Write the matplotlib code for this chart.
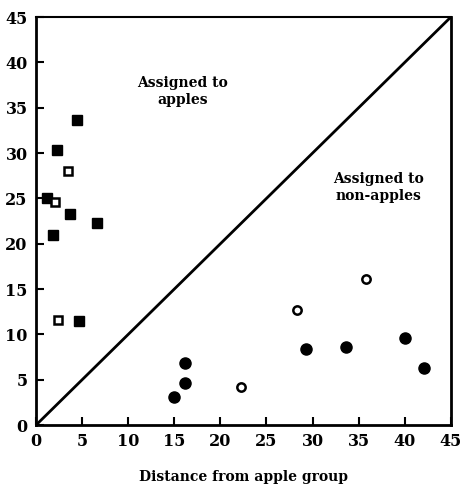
import matplotlib
matplotlib.use('Agg')
import matplotlib.pyplot as plt

# apples, correctly assigned (filled squares) and holdout (open squares)
apple_x = [4.4, 2.3, 1.2, 3.7, 6.6, 1.8, 4.7]
apple_y = [33.7, 30.3, 25.0, 23.3, 22.3, 21.0, 11.5]
apple_open_x = [3.5, 2.1, 2.4]
apple_open_y = [28.0, 24.6, 11.6]

# non-apples (filled circles) and holdout (open circles)
non_x = [16.2, 16.2, 15.0, 29.3, 33.6, 40.0, 42.1]
non_y = [6.9, 4.7, 3.1, 8.4, 8.6, 9.6, 6.3]
non_open_x = [22.2, 28.3, 35.8]
non_open_y = [4.2, 12.7, 16.1]

ticks = [0, 5, 10, 15, 20, 25, 30, 35, 40, 45]

plt.rcParams['font.family'] = 'DejaVu Serif'

fig = plt.figure(figsize=(4.61, 4.87), dpi=100)
ax = fig.add_axes([0.078, 0.127, 0.9, 0.838])

ax.plot([0, 45], [0, 45], color='black', lw=2)

ax.plot(apple_x, apple_y, 's', color='black', ms=7.5, ls='none')
ax.plot(apple_open_x, apple_open_y, 's', mfc='white', mec='black', mew=1.8, ms=5.5, ls='none')
ax.plot(non_x, non_y, 'o', color='black', ms=8, ls='none')
ax.plot(non_open_x, non_open_y, 'o', mfc='white', mec='black', mew=1.8, ms=6, ls='none')

ax.text(15.9, 36.8, 'Assigned to\napples', ha='center', va='center',
        fontsize=10, fontweight='bold', linespacing=1.3)
ax.text(37.1, 26.2, 'Assigned to\nnon-apples', ha='center', va='center',
        fontsize=10, fontweight='bold', linespacing=1.3)

ax.set_xlim(0, 45)
ax.set_ylim(0, 45)
ax.set_xticks(ticks)
ax.set_yticks(ticks)
ax.tick_params(direction='in', length=6, width=1.5, labelsize=11.5, pad=6)
for lab in ax.get_xticklabels() + ax.get_yticklabels():
    lab.set_fontweight('bold')
for s in ax.spines.values():
    s.set_linewidth(2)
ax.spines['top'].set_linewidth(1.5)

ax.set_xlabel('Distance from apple group', fontsize=10, fontweight='bold', labelpad=14)

fig.savefig('out.png', dpi=100)
